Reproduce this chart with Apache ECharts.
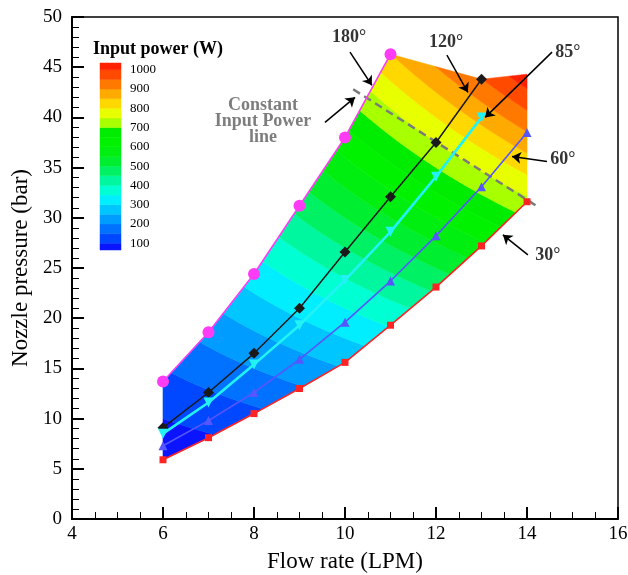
<!DOCTYPE html>
<html>
<head>
<meta charset="utf-8">
<script src="https://cdn.jsdelivr.net/npm/echarts@6/dist/echarts.min.js"></script>
<style>
  html, body { margin: 0; padding: 0; background: #fff; }
  #chart { width: 628px; height: 575px; }
</style>
</head>
<body>
<div id="chart"></div>
<script>
// Flow rate (LPM) of each measured point
const flowRates = [6, 7, 8, 9, 10, 11, 12, 13, 14];

// Nozzle pressure (bar) for each spray angle, in flow-rate order
const pressure180 = [13.7, 18.6, 24.4, 31.2, 38.0, 46.3];
const pressure120 = [9.1, 12.6, 16.5, 21.0, 26.6, 32.1, 37.5, 43.8];
const pressure85  = [8.5, 11.6, 15.4, 19.3, 23.8, 28.6, 34.1, 40.0];
const pressure60  = [7.3, 9.8, 12.6, 15.9, 19.6, 23.7, 28.2, 33.1, 38.5];
const pressure30  = [5.9, 8.1, 10.5, 13.0, 15.6, 19.3, 23.1, 27.2, 31.6];

// Upper-right corner of the mapped power field (LPM, bar)
const fieldCornerTopRight = [14, 44.3];

// Constant input power reference line (LPM, bar)
const constantPowerLine = [[10.18, 42.8], [14.24, 31.1]];

// Contour levels of input power (W)
const powerLevels = [100, 150, 200, 250, 300, 350, 400, 450, 500, 550,
                     600, 650, 700, 750, 800, 850, 900, 950, 1000];
// Fill colour of each band, lowest (< 100 W) to highest (> 1000 W)
const bandColors = ['#0a14ff', '#0048ff', '#0072ff', '#009cff', '#00c6ff',
                    '#00eeff', '#00ffd2', '#00f7a0', '#00f264', '#00ee30',
                    '#00ef10', '#00f200', '#00ec00', '#a8ff00', '#e8ff00',
                    '#ffd800', '#ffaa00', '#ff7800', '#ff4a00', '#ff2000'];
// Colour bar range (W) and its labels
const colorbarRange = [65, 1035];
const colorbarTicks = [100, 200, 300, 400, 500, 600, 700, 800, 900, 1000];

// Hydraulic power: 1 bar x 1 L/min = 1e5 Pa x (1/60000) m^3/s
const WATT_PER_BAR_LPM = 100000 / 60000;

const pairs = ys => ys.map((y, i) => [flowRates[i], y]);

// Outline of the mapped field: 180° curve along the top, 30° curve along the bottom
const topEdge = pairs(pressure180).concat([[flowRates[pressure120.length - 1], pressure120[pressure120.length - 1]], fieldCornerTopRight]);
const bottomEdge = pairs(pressure30);

function interp(pts, x) {
  if (x <= pts[0][0]) return pts[0][1];
  for (let i = 1; i < pts.length; i++) {
    if (x <= pts[i][0]) {
      const [x0, y0] = pts[i - 1], [x1, y1] = pts[i];
      return y0 + (y1 - y0) * (x - x0) / (x1 - x0);
    }
  }
  return pts[pts.length - 1][1];
}

// One filled band of the input power field, clipped to the field outline
function renderBand(params, api) {
  const i = api.value(0);
  const lo = i === 0 ? -Infinity : powerLevels[i - 1];
  const hi = i === powerLevels.length ? Infinity : powerLevels[i];
  const x0 = topEdge[0][0], x1 = fieldCornerTopRight[0];
  const steps = 800;
  const polys = [];
  let upper = [], lower = [];
  for (let k = 0; k <= steps; k++) {
    const x = x0 + (x1 - x0) * k / steps;
    const b = interp(bottomEdge, x), t = interp(topEdge, x);
    const yl = Math.max(b, lo / (WATT_PER_BAR_LPM * x));
    const yh = Math.min(t, hi / (WATT_PER_BAR_LPM * x));
    if (yh > yl) {
      upper.push(api.coord([x, yh]));
      lower.push(api.coord([x, yl]));
    } else if (upper.length) {
      polys.push(upper.concat(lower.reverse()));
      upper = []; lower = [];
    }
  }
  if (upper.length) polys.push(upper.concat(lower.reverse()));
  return {
    type: 'group',
    children: polys.map(p => ({
      type: 'polygon',
      shape: { points: p },
      style: { fill: bandColors[i], stroke: bandColors[i], lineWidth: 0.6 }
    }))
  };
}

// One cell of the colour bar
function renderColorbarCell(params, api) {
  const i = api.value(0);
  const lo = i === 0 ? colorbarRange[0] : powerLevels[i - 1];
  const hi = i === powerLevels.length ? colorbarRange[1] : powerLevels[i];
  const a = api.coord([0, hi]), b = api.coord([1, lo]);
  return {
    type: 'rect',
    shape: { x: a[0], y: a[1], width: b[0] - a[0], height: b[1] - a[1] },
    style: { fill: bandColors[i], stroke: bandColors[i], lineWidth: 0.5 }
  };
}

const SERIF = 'Liberation Serif';

function curve(name, ys, color, lineWidth, symbol, size, rotate) {
  return {
    name, type: 'line', data: pairs(ys),
    xAxisIndex: 0, yAxisIndex: 0,
    symbol, symbolSize: size, symbolRotate: rotate || 0,
    showAllSymbol: true,
    lineStyle: { color, width: lineWidth },
    itemStyle: { color, borderColor: color, borderWidth: 0 },
    z: 4, animation: false, silent: true
  };
}

// Callout texts and arrows, in axis units
const calloutTexts = [
  { name: '180°', value: [10.09, 48.0] },
  { name: '120°', value: [12.22, 47.5] },
  { name: '85°',  value: [14.90, 46.5] },
  { name: '60°',  value: [14.79, 35.8] },
  { name: '30°',  value: [14.46, 26.3] }
];
const calloutArrows = [
  [[10.11, 46.5], [10.59, 43.2]],
  [[12.24, 46.2], [12.70, 42.5]],
  [[14.55, 46.5], [13.08, 40.0]],
  [[14.44, 35.6], [13.67, 36.1]],
  [[14.02, 26.3], [13.47, 28.3]],
  [[9.56, 39.5], [10.22, 42.0]]
];

const chart = echarts.init(document.getElementById('chart'), null, { renderer: 'canvas' });

const invisibleDot = { color: 'rgba(0,0,0,0)', borderWidth: 0 };

chart.setOption({
  animation: false,
  backgroundColor: '#fff',
  title: {
    text: 'Input power (W)', left: 88, top: 35,
    textStyle: { fontFamily: SERIF, fontWeight: 'bold', fontSize: 18, color: '#000' }
  },
  grid: [
    { left: 72, right: 10, top: 17, bottom: 56, show: true, borderColor: '#000', borderWidth: 1.5,
      backgroundColor: 'transparent', outerBoundsMode: 'none', containLabel: false },
    { left: 100, top: 63, width: 21, height: 187, outerBoundsMode: 'none', containLabel: false }
  ],
  xAxis: [
    {
      type: 'value', gridIndex: 0, min: 4, max: 16, interval: 2,
      name: 'Flow rate (LPM)', nameLocation: 'middle', nameGap: 31,
      nameTextStyle: { fontFamily: SERIF, fontSize: 23, color: '#000' },
      axisLine: { lineStyle: { color: '#000', width: 2 } },
      axisTick: { inside: true, length: 12, lineStyle: { color: '#000', width: 2 } },
      minorTick: { show: true, splitNumber: 4, length: 7, lineStyle: { color: '#000', width: 1 } },
      splitLine: { show: false },
      axisLabel: { fontFamily: SERIF, fontSize: 19, color: '#000', margin: 6 }
    },
    { type: 'value', gridIndex: 1, min: 0, max: 1, show: false }
  ],
  yAxis: [
    {
      type: 'value', gridIndex: 0, min: 0, max: 50, interval: 5,
      name: 'Nozzle pressure (bar)', nameLocation: 'middle', nameGap: 40,
      nameTextStyle: { fontFamily: SERIF, fontSize: 23, color: '#000' },
      axisLine: { show: true, lineStyle: { color: '#000', width: 2 } },
      axisTick: { show: true, inside: true, length: 12, lineStyle: { color: '#000', width: 2 } },
      minorTick: { show: true, splitNumber: 5, length: 7, lineStyle: { color: '#000', width: 1 } },
      splitLine: { show: false },
      axisLabel: { fontFamily: SERIF, fontSize: 19, color: '#000', margin: 10 }
    },
    {
      type: 'value', gridIndex: 1, position: 'right',
      min: colorbarRange[0], max: colorbarRange[1],
      axisLine: { show: false }, axisTick: { show: false }, splitLine: { show: false },
      axisLabel: {
        customValues: colorbarTicks, formatter: v => String(v),
        fontFamily: SERIF, fontSize: 13, color: '#000', margin: 9
      }
    }
  ],
  series: [
    {
      type: 'custom', coordinateSystem: 'cartesian2d', xAxisIndex: 0, yAxisIndex: 0,
      data: bandColors.map((c, i) => [i]),
      renderItem: renderBand, z: 1, silent: true, animation: false
    },
    {
      type: 'custom', coordinateSystem: 'cartesian2d', xAxisIndex: 1, yAxisIndex: 1,
      data: bandColors.map((c, i) => [i]),
      renderItem: renderColorbarCell, z: 1, silent: true, animation: false
    },
    {
      type: 'line', data: constantPowerLine, xAxisIndex: 0, yAxisIndex: 0,
      symbol: 'none', silent: true, animation: false, z: 3,
      lineStyle: { color: '#7a7a7a', width: 2.5, type: [8, 5] },
      markLine: {
        silent: true, animation: false, symbol: ['none', 'arrow'], symbolSize: 9,
        lineStyle: { color: '#000', width: 1.5, type: 'solid' },
        label: { show: false },
        data: calloutArrows.map(a => [{ coord: a[0] }, { coord: a[1] }])
      }
    },
    curve('180°', pressure180, '#ff3cf5', 1.6, 'circle', 12),
    curve('120°', pressure120, '#1a1a1a', 1.5, 'diamond', 11),
    curve('85°', pressure85, '#22f2f5', 2.6, 'triangle', 10, 180),
    curve('60°', pressure60, '#5656ff', 1.6, 'triangle', 9),
    curve('30°', pressure30, '#ff2424', 1.6, 'rect', 7),
    {
      type: 'scatter', xAxisIndex: 0, yAxisIndex: 0, data: calloutTexts,
      symbolSize: 1, itemStyle: invisibleDot, silent: true, animation: false, z: 6,
      label: {
        show: true, position: 'inside', formatter: p => p.name,
        fontFamily: SERIF, fontWeight: 'bold', fontSize: 18, color: '#000'
      }
    },
    {
      type: 'scatter', xAxisIndex: 0, yAxisIndex: 0,
      data: [{ name: 'Constant\nInput Power\nline', value: [8.20, 39.6] }],
      symbolSize: 1, itemStyle: invisibleDot, silent: true, animation: false, z: 6,
      label: {
        show: true, position: 'inside', formatter: p => p.name, align: 'center',
        fontFamily: SERIF, fontWeight: 'bold', fontSize: 18, lineHeight: 16, color: '#5c5c5c'
      }
    }
  ]
});
</script>
</body>
</html>
